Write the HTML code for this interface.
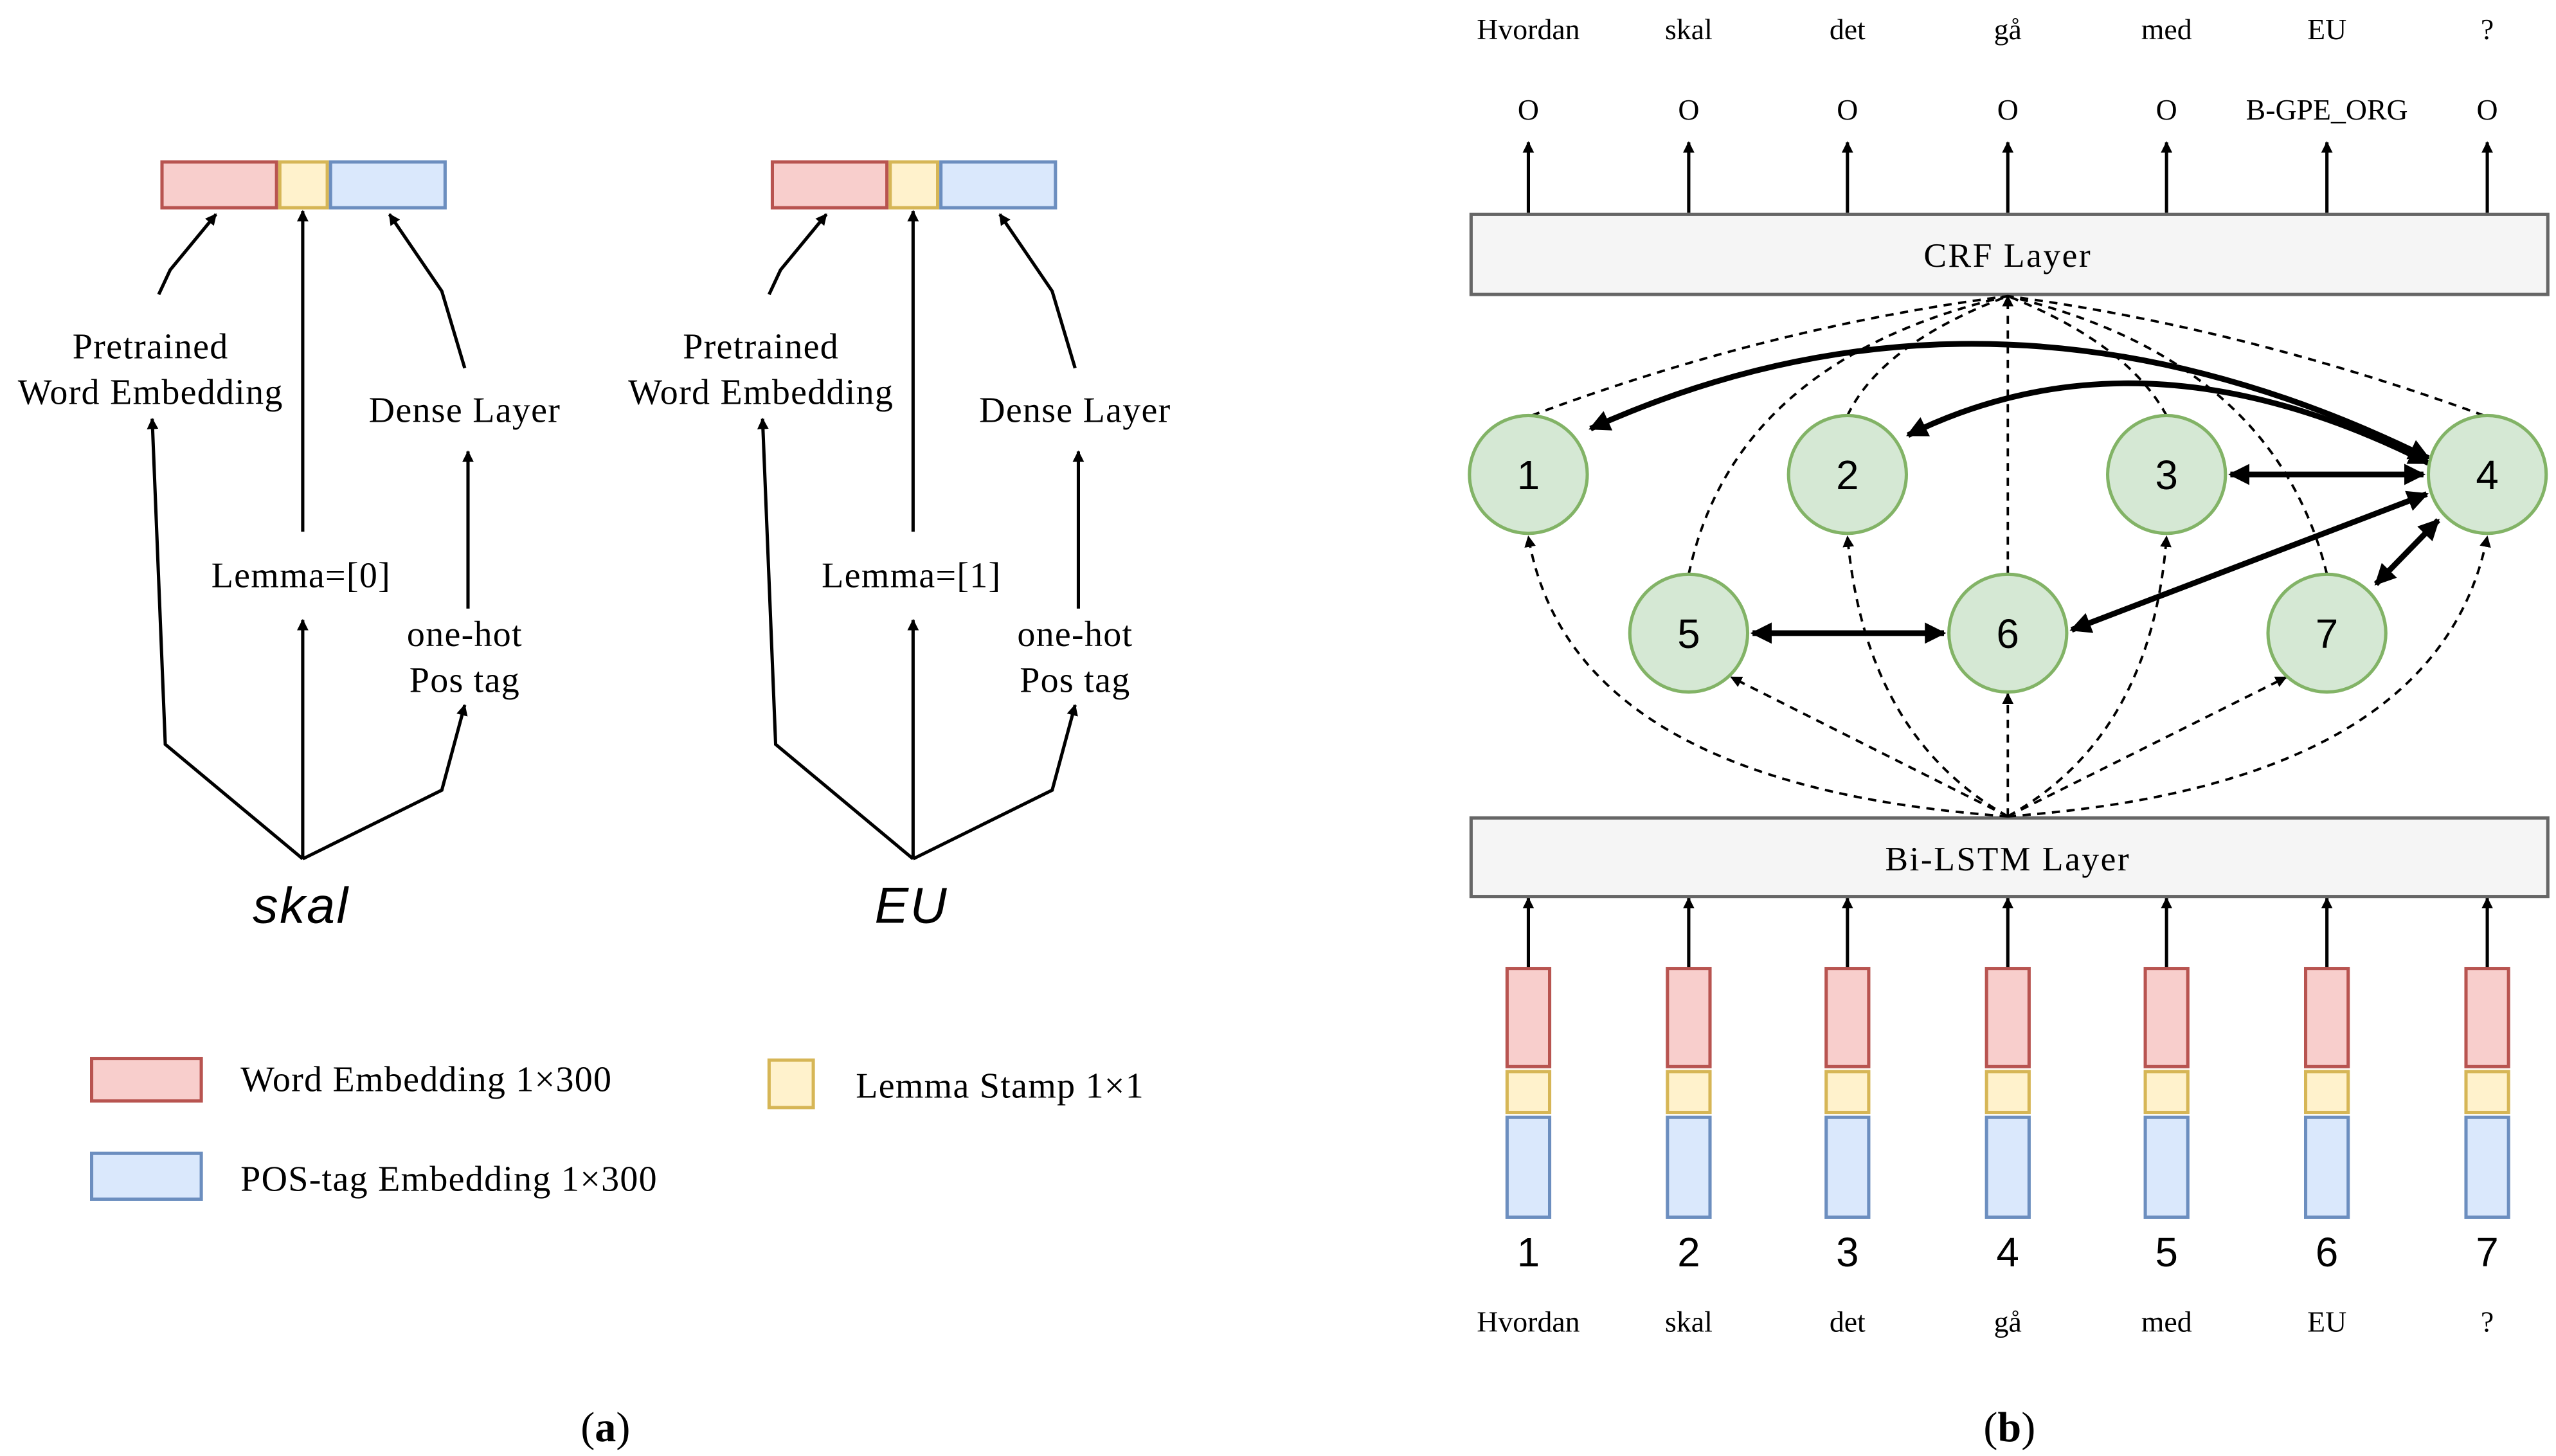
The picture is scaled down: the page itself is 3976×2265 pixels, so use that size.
<!DOCTYPE html>
<html><head><meta charset="utf-8"><style>html,body{margin:0;padding:0;background:#fff}svg{display:block}</style></head>
<body>
<svg width="3976" height="2265" viewBox="0 0 1562 890" preserveAspectRatio="none" xmlns="http://www.w3.org/2000/svg">
<defs>
<marker id="a" viewBox="0 0 10 10" refX="9" refY="5" markerWidth="7" markerHeight="7" orient="auto-start-reverse" markerUnits="userSpaceOnUse"><path d="M0,0L10,5L0,10z" fill="#000"/></marker>
<marker id="b" viewBox="0 0 10 10" refX="9" refY="5" markerWidth="13" markerHeight="13" orient="auto-start-reverse" markerUnits="userSpaceOnUse"><path d="M0,0L10,5L0,10z" fill="#000"/></marker>
</defs>
<g font-family="Liberation Serif, serif" font-size="20" fill="#000" text-anchor="middle">
<!-- panel a -->
<g id="pa" stroke="#000" stroke-width="2" fill="none">
<rect x="99" y="99" width="70" height="28" fill="#f8cecc" stroke="#b85450"/>
<rect x="171" y="99" width="29" height="28" fill="#fff2cc" stroke="#d6b656"/>
<rect x="202" y="99" width="70" height="28" fill="#dae8fc" stroke="#6c8ebf"/>
<polyline points="185,525 101,455 93,256" marker-end="url(#a)"/>
<line x1="185" y1="525" x2="185" y2="379" marker-end="url(#a)"/>
<polyline points="185,525 270,483 284,431" marker-end="url(#a)"/>
<line x1="185" y1="325" x2="185" y2="129" marker-end="url(#a)"/>
<polyline points="97,180 104,165 132,131" marker-end="url(#a)"/>
<polyline points="284,225 270,178 238,131" marker-end="url(#a)"/>
<line x1="286" y1="372" x2="286" y2="276" marker-end="url(#a)"/>
</g>
<g font-size="22" letter-spacing="0.5">
<text x="92" y="219">Pretrained</text><text x="92" y="247">Word Embedding</text>
<text x="284" y="258">Dense Layer</text>
<text x="184" y="359">Lemma=[0]</text>
<text x="284" y="395">one-hot</text><text x="284" y="423">Pos tag</text>
<text x="184" y="564" font-family="Liberation Sans, sans-serif" font-style="italic" font-size="31" letter-spacing="1">skal</text>
</g>
<use href="#pa" x="373"/>
<g font-size="22" letter-spacing="0.5">
<text x="465" y="219">Pretrained</text><text x="465" y="247">Word Embedding</text>
<text x="657" y="258">Dense Layer</text>
<text x="557" y="359">Lemma=[1]</text>
<text x="657" y="395">one-hot</text><text x="657" y="423">Pos tag</text>
<text x="557" y="564" font-family="Liberation Sans, sans-serif" font-style="italic" font-size="31" letter-spacing="1">EU</text>
</g>
<!-- legend -->
<rect x="56" y="647" width="67" height="26" fill="#f8cecc" stroke="#b85450" stroke-width="2"/>
<rect x="56" y="705" width="67" height="28" fill="#dae8fc" stroke="#6c8ebf" stroke-width="2"/>
<rect x="470" y="648" width="27" height="29" fill="#fff2cc" stroke="#d6b656" stroke-width="2"/>
<g text-anchor="start" font-size="22" letter-spacing="0.5"><text x="147" y="667">Word Embedding 1×300</text><text x="147" y="728">POS-tag Embedding 1×300</text><text x="523" y="671">Lemma Stamp 1×1</text></g>
<text x="370" y="881" font-size="26">(<tspan font-weight="bold">a</tspan>)</text>
<text x="1228" y="881" font-size="26">(<tspan font-weight="bold">b</tspan>)</text>
<!-- panel b -->
<g font-size="18">
<text x="934" y="24">Hvordan</text><text x="1032" y="24">skal</text><text x="1129" y="24">det</text><text x="1227" y="24">gå</text><text x="1324" y="24">med</text><text x="1422" y="24">EU</text><text x="1520" y="24">?</text>
<text x="934" y="73">O</text><text x="1032" y="73">O</text><text x="1129" y="73">O</text><text x="1227" y="73">O</text><text x="1324" y="73">O</text><text x="1422" y="73">B-GPE_ORG</text><text x="1520" y="73">O</text>
<text x="934" y="814">Hvordan</text><text x="1032" y="814">skal</text><text x="1129" y="814">det</text><text x="1227" y="814">gå</text><text x="1324" y="814">med</text><text x="1422" y="814">EU</text><text x="1520" y="814">?</text>
</g>
<g stroke="#000" stroke-width="2">
<line x1="934" y1="130" x2="934" y2="87" marker-end="url(#a)"/><line x1="1032" y1="130" x2="1032" y2="87" marker-end="url(#a)"/><line x1="1129" y1="130" x2="1129" y2="87" marker-end="url(#a)"/><line x1="1227" y1="130" x2="1227" y2="87" marker-end="url(#a)"/><line x1="1324" y1="130" x2="1324" y2="87" marker-end="url(#a)"/><line x1="1422" y1="130" x2="1422" y2="87" marker-end="url(#a)"/><line x1="1520" y1="130" x2="1520" y2="87" marker-end="url(#a)"/>
<line x1="934" y1="592" x2="934" y2="549" marker-end="url(#a)"/><line x1="1032" y1="592" x2="1032" y2="549" marker-end="url(#a)"/><line x1="1129" y1="592" x2="1129" y2="549" marker-end="url(#a)"/><line x1="1227" y1="592" x2="1227" y2="549" marker-end="url(#a)"/><line x1="1324" y1="592" x2="1324" y2="549" marker-end="url(#a)"/><line x1="1422" y1="592" x2="1422" y2="549" marker-end="url(#a)"/><line x1="1520" y1="592" x2="1520" y2="549" marker-end="url(#a)"/>
</g>
<rect x="899" y="131" width="658" height="49" fill="#f5f5f5" stroke="#666" stroke-width="2"/>
<text x="1227" y="163" font-size="21" letter-spacing="1">CRF Layer</text>
<rect x="899" y="500" width="658" height="48" fill="#f5f5f5" stroke="#666" stroke-width="2"/>
<text x="1227" y="532" font-size="21" letter-spacing="1">Bi-LSTM Layer</text>
<!-- dashed -->
<g stroke="#000" stroke-width="1.5" fill="none" stroke-dasharray="5,4">
<path d="M936,254 Q1080,200 1227,181"/><path d="M1518,254 Q1370,200 1227,181"/>
<path d="M1129,254 Q1150,210 1227,181"/><path d="M1324,254 Q1300,210 1227,181"/>
<path d="M1032,351 Q1060,220 1227,181"/><path d="M1422,351 Q1390,220 1227,181"/>
<path d="M1227,351 L1227,181" marker-end="url(#a)"/>
<path d="M1227,499 Q960,480 934,328" marker-end="url(#a)"/>
<path d="M1227,499 Q1490,480 1520,328" marker-end="url(#a)"/>
<path d="M1227,499 Q1140,450 1129,328" marker-end="url(#a)"/>
<path d="M1227,499 Q1315,450 1324,328" marker-end="url(#a)"/>
<path d="M1227,499 L1058,414" marker-end="url(#a)"/>
<path d="M1227,499 L1397,414" marker-end="url(#a)"/>
<path d="M1227,499 L1227,424" marker-end="url(#a)"/>
</g>
<!-- thick -->
<g stroke="#000" stroke-width="3.5" fill="none">
<path d="M1484,280 Q1220,150 972,262" marker-start="url(#b)" marker-end="url(#b)"/>
<path d="M1484,283 Q1310,195 1166,266" marker-start="url(#b)" marker-end="url(#b)"/>
<line x1="1363" y1="290" x2="1481" y2="290" marker-start="url(#b)" marker-end="url(#b)"/>
<line x1="1071" y1="387" x2="1188" y2="387" marker-start="url(#b)" marker-end="url(#b)"/>
<line x1="1266" y1="385" x2="1483" y2="302" marker-start="url(#b)" marker-end="url(#b)"/>
<line x1="1452" y1="357" x2="1490" y2="318" marker-start="url(#b)" marker-end="url(#b)"/>
</g>
<g fill="#d5e8d4" stroke="#82b366" stroke-width="2">
<circle cx="934" cy="290" r="36"/><circle cx="1129" cy="290" r="36"/><circle cx="1324" cy="290" r="36"/><circle cx="1520" cy="290" r="36"/><circle cx="1032" cy="387" r="36"/><circle cx="1227" cy="387" r="36"/><circle cx="1422" cy="387" r="36"/>
</g>
<g font-family="Liberation Sans, sans-serif" font-size="25">
<text x="934" y="299">1</text><text x="1129" y="299">2</text><text x="1324" y="299">3</text><text x="1520" y="299">4</text><text x="1032" y="396">5</text><text x="1227" y="396">6</text><text x="1422" y="396">7</text>
<text x="934" y="774">1</text><text x="1032" y="774">2</text><text x="1129" y="774">3</text><text x="1227" y="774">4</text><text x="1324" y="774">5</text><text x="1422" y="774">6</text><text x="1520" y="774">7</text>
</g>
<g id="bar" stroke-width="2">
<rect x="921" y="592" width="26" height="60" fill="#f8cecc" stroke="#b85450"/>
<rect x="921" y="655" width="26" height="25" fill="#fff2cc" stroke="#d6b656"/>
<rect x="921" y="683" width="26" height="61" fill="#dae8fc" stroke="#6c8ebf"/>
</g>
<use href="#bar" x="98"/><use href="#bar" x="195"/><use href="#bar" x="293"/><use href="#bar" x="390"/><use href="#bar" x="488"/><use href="#bar" x="586"/>
</g>
</svg>
</body></html>
